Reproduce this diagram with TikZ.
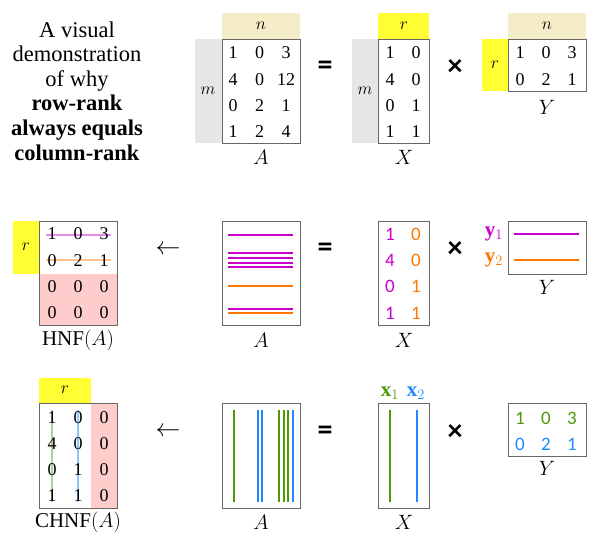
\documentclass[tikz,border=0pt]{standalone}
\usepackage{fontspec}
\setmainfont{Liberation Serif}
\newfontfamily\numsans{Carlito}
\definecolor{hdrtan}{HTML}{F5EDC8}
\definecolor{hdrgray}{HTML}{E6E6E6}
\definecolor{rankyel}{HTML}{FFFF33}
\definecolor{zeropink}{HTML}{FFCCCC}
\definecolor{rowpurple}{HTML}{CC00CC}
\definecolor{roworange}{HTML}{FF7700}
\definecolor{colgreen}{HTML}{4E9A06}
\definecolor{colblue}{HTML}{1E88FF}
\begin{document}
\begin{tikzpicture}[
    x=1pt, y=-1pt,
    every node/.style={inner sep=0pt, outer sep=0pt},
    mbox/.style={draw=black!60, line width=0.9pt},
    num/.style={font=\fontsize{18}{20}\selectfont},
    cnum/.style={font=\numsans\fontsize{19}{21}\selectfont},
    dim/.style={font=\fontsize{17}{19}\selectfont},
    mlabel/.style={font=\fontsize{21}{24}\selectfont},
    oper/.style={font=\numsans\bfseries\fontsize{30}{32}\selectfont},
    bar/.style={line width=2.5pt},
    ghost/.style={line width=2.8pt}
  ]
  \useasboundingbox (0,0) rectangle (600,548);

  % title
  \node[align=center, font=\fontsize{22.5}{24.6}\selectfont] (title) at (77,91)
    {A visual\\demonstration\\of why\\\textbf{row-rank}\\\textbf{always equals}\\\textbf{column-rank}};

  % ---- top row: A = X Y ----
  \fill[hdrtan] (222,13) rectangle (300,39);
  \fill[hdrgray] (195,39) rectangle (222,143);
  \fill[rankyel] (378,13) rectangle (429,39);
  \fill[hdrgray] (352,39) rectangle (378,143);
  \fill[hdrtan] (508,13) rectangle (586,39);
  \fill[rankyel] (482,39) rectangle (508,91);
  \node[dim] (An) at (261,26) {$n$};
  \node[dim] (Am) at (208,91) {$m$};
  \node[dim] (Xr) at (404,26) {$r$};
  \node[dim] (Xm) at (365,91) {$m$};
  \node[dim] (Yn) at (547,26) {$n$};
  \node[dim] (Yr) at (495,65) {$r$};
  \draw[mbox] (222,39) rectangle (300,143);
  \draw[mbox] (378,39) rectangle (429,143);
  \draw[mbox] (508,39) rectangle (586,91);
  \foreach \row [count=\i] in {{1,0,3},{4,0,12},{0,2,1},{1,2,4}}
    \foreach \v [count=\j] in \row
      \node[num] (a-\i-\j) at ({233+26.5*(\j-1)}, {53+26.3*(\i-1)}) {\v};
  \foreach \row [count=\i] in {{1,0},{4,0},{0,1},{1,1}}
    \foreach \v [count=\j] in \row
      \node[num] (x-\i-\j) at ({390+26*(\j-1)}, {53+26.3*(\i-1)}) {\v};
  \foreach \row [count=\i] in {{1,0,3},{0,2,1}}
    \foreach \v [count=\j] in \row
      \node[num] (y-\i-\j) at ({520+26*(\j-1)}, {53+26.3*(\i-1)}) {\v};
  \node[mlabel] (Alab) at (261,157) {$A$};
  \node[mlabel] (Xlab) at (404,157) {$X$};
  \node[mlabel] (Ylab) at (547,107) {$Y$};
  \node[oper] (eq1) at (325,68) {=};
  \node[oper] (times1) at (455,68) {×};

  % ---- middle row: rows ----
  \fill[rankyel] (13,221) rectangle (39,274);
  \fill[zeropink] (39,274) rectangle (117,325);
  \node[dim] (Hr) at (26,247) {$r$};
  \draw[ghost, rowpurple!45] (46,235) -- (111,235);
  \draw[ghost, roworange!45] (46,260) -- (111,260);
  \foreach \row [count=\i] in {{1,0,3},{0,2,1},{0,0,0},{0,0,0}}
    \foreach \v [count=\j] in \row
      \node[num] (h-\i-\j) at ({52+26*(\j-1)}, {234+26.3*(\i-1)}) {\v};
  \draw[mbox] (39,221) rectangle (117,325);
  \node[mlabel] (Hlab) at (78,340) {$\mathrm{HNF}(A)$};
  \node[font=\fontsize{30}{32}\selectfont] (arr1) at (168,250) {$\leftarrow$};

  \draw[mbox] (222,221) rectangle (300,325);
  \foreach \yy in {235,253,258,263,267,309}
    \draw[bar, rowpurple] (228,\yy) -- (293,\yy);
  \foreach \yy in {286,313}
    \draw[bar, roworange] (228,\yy) -- (293,\yy);
  \node[mlabel] (Alab2) at (261,340) {$A$};
  \node[oper] (eq2) at (325,250) {=};

  \draw[mbox] (378,221) rectangle (429,325);
  \foreach \a/\b [count=\i] in {1/0,4/0,0/1,1/1} {
    \node[cnum, text=rowpurple] (xm-\i-1) at (390,{234+26.3*(\i-1)}) {\a};
    \node[cnum, text=roworange] (xm-\i-2) at (416,{234+26.3*(\i-1)}) {\b};
  }
  \node[mlabel] (Xlab2) at (404,340) {$X$};
  \node[oper] (times2) at (455,250) {×};

  \draw[mbox] (508,221) rectangle (586,274);
  \draw[bar, rowpurple] (514,234) -- (579,234);
  \draw[bar, roworange] (514,260) -- (579,260);
  \node[mlabel, text=rowpurple] (y1) at (494,234) {$\mathbf{y}_1$};
  \node[mlabel, text=roworange] (y2) at (494,260) {$\mathbf{y}_2$};
  \node[mlabel] (Ylab2) at (547,287) {$Y$};

  % ---- bottom row: columns ----
  \fill[rankyel] (39,378) rectangle (91,403);
  \fill[zeropink] (91,403) rectangle (117,508);
  \node[dim] (Cr) at (65,390) {$r$};
  \draw[ghost, colgreen!45] (52,410) -- (52,502);
  \draw[ghost, colblue!50] (78,410) -- (78,502);
  \foreach \row [count=\i] in {{1,0,0},{4,0,0},{0,1,0},{1,1,0}}
    \foreach \v [count=\j] in \row
      \node[num] (c-\i-\j) at ({52+26*(\j-1)}, {418+26*(\i-1)}) {\v};
  \draw[mbox] (39,403) rectangle (117,508);
  \node[mlabel] (Clab) at (78,522) {$\mathrm{CHNF}(A)$};
  \node[font=\fontsize{30}{32}\selectfont] (arr2) at (168,432) {$\leftarrow$};

  \draw[mbox] (222,403) rectangle (300,508);
  \foreach \xx in {234,279,284,288}
    \draw[bar, colgreen] (\xx,410) -- (\xx,502);
  \foreach \xx in {258,262,293}
    \draw[bar, colblue] (\xx,410) -- (\xx,502);
  \node[mlabel] (Alab3) at (261,522) {$A$};
  \node[oper] (eq3) at (325,433) {=};

  \draw[mbox] (378,403) rectangle (429,508);
  \draw[bar, colgreen] (390,410) -- (390,502);
  \draw[bar, colblue] (417,410) -- (417,502);
  \node[mlabel, text=colgreen] (x1) at (390,393) {$\mathbf{x}_1$};
  \node[mlabel, text=colblue] (x2) at (416,393) {$\mathbf{x}_2$};
  \node[mlabel] (Xlab3) at (404,522) {$X$};
  \node[oper] (times3) at (455,433) {×};

  \draw[mbox] (508,403) rectangle (586,456);
  \foreach \v [count=\j] in {1,0,3}
    \node[cnum, text=colgreen] (yb-1-\j) at ({520+26*(\j-1)},418) {\v};
  \foreach \v [count=\j] in {0,2,1}
    \node[cnum, text=colblue] (yb-2-\j) at ({520+26*(\j-1)},444) {\v};
  \node[mlabel] (Ylab3) at (547,468) {$Y$};
\end{tikzpicture}
\end{document}
